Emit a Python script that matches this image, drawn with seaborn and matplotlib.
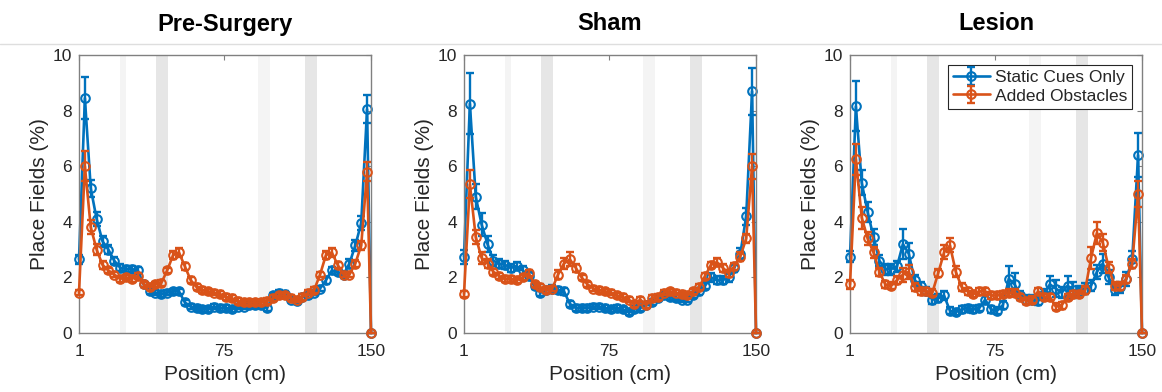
import numpy as np
import matplotlib
matplotlib.use("Agg")
import matplotlib.pyplot as plt
from matplotlib.lines import Line2D
import seaborn as sns

sns.set_style("white")
plt.rcParams['font.family'] = ['Liberation Sans', 'DejaVu Sans']

# ---------------- data ----------------
positions = np.r_[np.arange(1, 149, 3), 150]

titles = ["Pre-Surgery", "Sham", "Lesion"]
series_names = ["Static Cues Only", "Added Obstacles"]

pre_static = [2.65, 8.45, 5.2, 4.1, 3.3, 3.0, 2.6, 2.35, 2.3, 2.3,
              2.25, 1.75, 1.5, 1.45, 1.4, 1.45, 1.5, 1.5, 1.1, 0.95,
              0.9, 0.85, 0.85, 0.95, 0.9, 0.9, 0.85, 0.95, 0.95, 1.0,
              1.0, 1.0, 0.9, 1.35, 1.45, 1.4, 1.2, 1.15, 1.3, 1.35,
              1.45, 1.6, 1.9, 2.25, 2.2, 2.1, 2.5, 3.15, 3.95, 8.05,
              0.0]
pre_static_err = [0.15, 0.75, 0.30, 0.25, 0.20, 0.15, 0.12, 0.12, 0.12, 0.12,
                  0.12, 0.10, 0.10, 0.10, 0.10, 0.10, 0.10, 0.10, 0.10, 0.10,
                  0.10, 0.10, 0.10, 0.10, 0.10, 0.10, 0.10, 0.10, 0.10, 0.10,
                  0.10, 0.10, 0.10, 0.10, 0.10, 0.10, 0.10, 0.10, 0.10, 0.10,
                  0.10, 0.10, 0.12, 0.12, 0.12, 0.12, 0.15, 0.20, 0.25, 0.50,
                  0.00]
pre_obst = [1.45, 6.0, 3.8, 3.0, 2.45, 2.25, 2.1, 1.95, 2.0, 1.95,
            2.05, 1.75, 1.65, 1.75, 1.8, 2.25, 2.8, 2.9, 2.4, 1.9,
            1.65, 1.55, 1.5, 1.45, 1.4, 1.3, 1.25, 1.15, 1.1, 1.1,
            1.1, 1.1, 1.15, 1.25, 1.35, 1.35, 1.25, 1.2, 1.3, 1.45,
            1.55, 2.1, 2.8, 2.9, 2.45, 2.1, 2.1, 2.5, 3.15, 5.8,
            0.0]
pre_obst_err = [0.10, 0.55, 0.25, 0.20, 0.15, 0.10, 0.10, 0.10, 0.10, 0.10,
                0.10, 0.10, 0.10, 0.10, 0.10, 0.10, 0.15, 0.15, 0.12, 0.10,
                0.10, 0.10, 0.10, 0.10, 0.10, 0.10, 0.10, 0.10, 0.10, 0.10,
                0.10, 0.10, 0.10, 0.10, 0.10, 0.10, 0.10, 0.10, 0.10, 0.10,
                0.10, 0.10, 0.15, 0.15, 0.12, 0.10, 0.10, 0.12, 0.15, 0.35,
                0.00]

sham_static = [2.75, 8.25, 4.9, 3.9, 3.2, 2.6, 2.5, 2.45, 2.35, 2.4,
               2.25, 2.05, 1.7, 1.45, 1.55, 1.6, 1.55, 1.5, 1.05, 0.9,
               0.9, 0.9, 0.95, 0.95, 0.9, 0.85, 0.9, 0.85, 0.75, 0.85,
               0.9, 1.0, 1.1, 1.25, 1.35, 1.3, 1.25, 1.2, 1.2, 1.35,
               1.5, 1.7, 2.0, 1.9, 1.9, 2.0, 2.35, 2.85, 4.2, 8.7,
               0.0]
sham_static_err = [0.25, 1.10, 0.45, 0.40, 0.30, 0.20, 0.15, 0.15, 0.15, 0.15,
                   0.15, 0.15, 0.12, 0.12, 0.12, 0.12, 0.12, 0.12, 0.10, 0.10,
                   0.10, 0.10, 0.10, 0.10, 0.10, 0.10, 0.10, 0.10, 0.10, 0.10,
                   0.10, 0.10, 0.10, 0.10, 0.10, 0.10, 0.10, 0.10, 0.10, 0.10,
                   0.12, 0.12, 0.15, 0.15, 0.15, 0.15, 0.15, 0.20, 0.30, 0.85,
                   0.00]
sham_obst = [1.4, 5.35, 3.45, 2.7, 2.5, 2.2, 2.05, 1.95, 1.95, 1.9,
             2.0, 2.15, 1.75, 1.65, 1.55, 1.6, 2.1, 2.5, 2.65, 2.35,
             2.0, 1.75, 1.6, 1.55, 1.5, 1.45, 1.35, 1.3, 1.2, 1.05,
             1.2, 1.0, 1.25, 1.3, 1.45, 1.5, 1.45, 1.4, 1.35, 1.5,
             1.65, 2.05, 2.45, 2.55, 2.35, 2.15, 2.4, 2.75, 3.4, 6.0,
             0.0]
sham_obst_err = [0.10, 0.50, 0.25, 0.20, 0.15, 0.10, 0.10, 0.10, 0.10, 0.10,
                 0.10, 0.10, 0.10, 0.10, 0.10, 0.10, 0.15, 0.20, 0.25, 0.15,
                 0.10, 0.10, 0.10, 0.10, 0.10, 0.10, 0.10, 0.10, 0.10, 0.10,
                 0.10, 0.10, 0.10, 0.10, 0.10, 0.10, 0.10, 0.10, 0.10, 0.10,
                 0.10, 0.10, 0.12, 0.15, 0.15, 0.12, 0.12, 0.15, 0.15, 0.45,
                 0.00]

les_static = [2.75, 8.15, 5.4, 4.35, 3.45, 2.6, 2.3, 2.3, 2.4, 3.2,
              2.85, 1.9, 1.7, 1.5, 1.2, 1.25, 1.35, 0.8, 0.75, 0.85,
              0.9, 0.85, 0.9, 1.2, 0.85, 0.8, 1.0, 1.95, 1.75, 1.35,
              1.2, 1.2, 1.15, 1.4, 1.75, 1.6, 1.45, 1.7, 1.55, 1.5,
              1.6, 1.7, 2.2, 2.5, 2.0, 1.55, 1.65, 1.95, 2.65, 6.4,
              0.0]
les_static_err = [0.20, 0.90, 0.45, 0.35, 0.30, 0.20, 0.20, 0.20, 0.20, 0.55,
                  0.40, 0.20, 0.15, 0.15, 0.15, 0.15, 0.15, 0.12, 0.12, 0.12,
                  0.12, 0.12, 0.12, 0.15, 0.12, 0.12, 0.15, 0.45, 0.40, 0.15,
                  0.15, 0.15, 0.15, 0.20, 0.30, 0.30, 0.20, 0.35, 0.30, 0.20,
                  0.20, 0.20, 0.25, 0.35, 0.25, 0.20, 0.20, 0.25, 0.30, 0.80,
                  0.00]
les_obst = [1.75, 6.25, 4.15, 3.4, 2.9, 2.2, 1.75, 1.7, 1.9, 2.1,
            2.2, 1.65, 1.5, 1.5, 1.45, 2.15, 2.9, 3.15, 2.2, 1.65,
            1.5, 1.4, 1.5, 1.5, 1.35, 1.35, 1.4, 1.45, 1.45, 1.3,
            1.15, 1.2, 1.5, 1.3, 1.3, 0.95, 1.0, 1.3, 1.4, 1.4,
            1.55, 2.7, 3.6, 3.25, 2.35, 1.7, 1.7, 1.95, 2.5, 5.0,
            0.0]
les_obst_err = [0.15, 0.55, 0.40, 0.25, 0.20, 0.15, 0.12, 0.12, 0.15, 0.25,
                0.25, 0.15, 0.12, 0.12, 0.12, 0.15, 0.25, 0.25, 0.20, 0.15,
                0.12, 0.12, 0.12, 0.12, 0.12, 0.12, 0.12, 0.12, 0.12, 0.12,
                0.12, 0.12, 0.12, 0.12, 0.12, 0.12, 0.12, 0.12, 0.12, 0.12,
                0.15, 0.40, 0.40, 0.30, 0.20, 0.15, 0.15, 0.15, 0.15, 0.45,
                0.00]

# shaded regions (cm): (start, end, shade)
bands = [(22, 25, "#f4f4f4"), (40.5, 46.5, "#e6e6e6"),
         (92.5, 98.5, "#f4f4f4"), (116.5, 122.5, "#e6e6e6")]

panels = [
    (pre_static, pre_static_err, pre_obst, pre_obst_err),
    (sham_static, sham_static_err, sham_obst, sham_obst_err),
    (les_static, les_static_err, les_obst, les_obst_err),
]
colors = ["#0072BD", "#D95319"]

# ---------------- figure ----------------
W, H = 1162, 392
fig = plt.figure(figsize=(W / 100, H / 100), dpi=100)
fig.patch.set_facecolor("white")

lefts = [79, 464, 850]
ax_w, top, bottom = 292, 55, 333

fig.add_artist(Line2D([0, 1], [1 - 43.5 / H] * 2, color="#dedede", lw=1,
                      transform=fig.transFigure))

for i, (title, data) in enumerate(zip(titles, panels)):
    ax = fig.add_axes([lefts[i] / W, (H - bottom) / H, ax_w / W, (bottom - top) / H])
    for (a, b, c) in bands:
        ax.axvspan(a, b, color=c, lw=0, zorder=0)
    handles = []
    for j in range(2):
        y = np.asarray(data[2 * j])
        e = np.asarray(data[2 * j + 1])
        c = colors[j]
        z = 2 + j
        sns.lineplot(x=positions, y=y, ax=ax, color=c, lw=1.9, marker="o",
                     markersize=6.2, markerfacecolor="none", markeredgecolor=c,
                     markeredgewidth=1.5, clip_on=False, zorder=z,
                     estimator=None, sort=False)
        line = ax.lines[-1]
        eb = ax.errorbar(positions, y, yerr=e, fmt="none", ecolor=c,
                         elinewidth=1.7, capsize=3, capthick=1.7, zorder=z)
        for art in eb.lines[1] + eb.lines[2]:
            art.set_clip_on(False)
        handles.append((eb, line))

    ax.set_xlim(1, 150)
    ax.set_ylim(0, 10)
    ax.set_xticks([1, 75, 150])
    ax.set_yticks([0, 2, 4, 6, 8, 10])
    ax.tick_params(direction="in", length=3.5, width=0.8, top=True, right=True,
                   labelsize=12.5, colors="#808080", labelcolor="#262626")
    ax.tick_params(axis="x", pad=8)
    ax.tick_params(axis="y", pad=5)
    for sp in ax.spines.values():
        sp.set_color("#808080")
        sp.set_linewidth(1.0)
    ax.set_xlabel("Position (cm)", fontsize=15, color="#262626", labelpad=4)
    ax.set_ylabel("Place Fields (%)", fontsize=15, color="#262626", labelpad=3)
    fig.text((lefts[i] + ax_w / 2) / W, 1 - 24 / H, title, ha="center",
             va="center", fontsize=17, fontweight="bold", color="black")

    if i == 2:
        leg = ax.legend(handles, series_names, loc="upper right", fontsize=12.5,
                        frameon=True, fancybox=False, framealpha=1,
                        edgecolor="#262626", borderaxespad=0.55,
                        handlelength=2.1, handletextpad=0.3,
                        labelspacing=0.2, borderpad=0.3)
        leg.get_frame().set_linewidth(0.8)
        for t in leg.get_texts():
            t.set_color("#262626")

fig.savefig("out.png", dpi=100, facecolor="white")
